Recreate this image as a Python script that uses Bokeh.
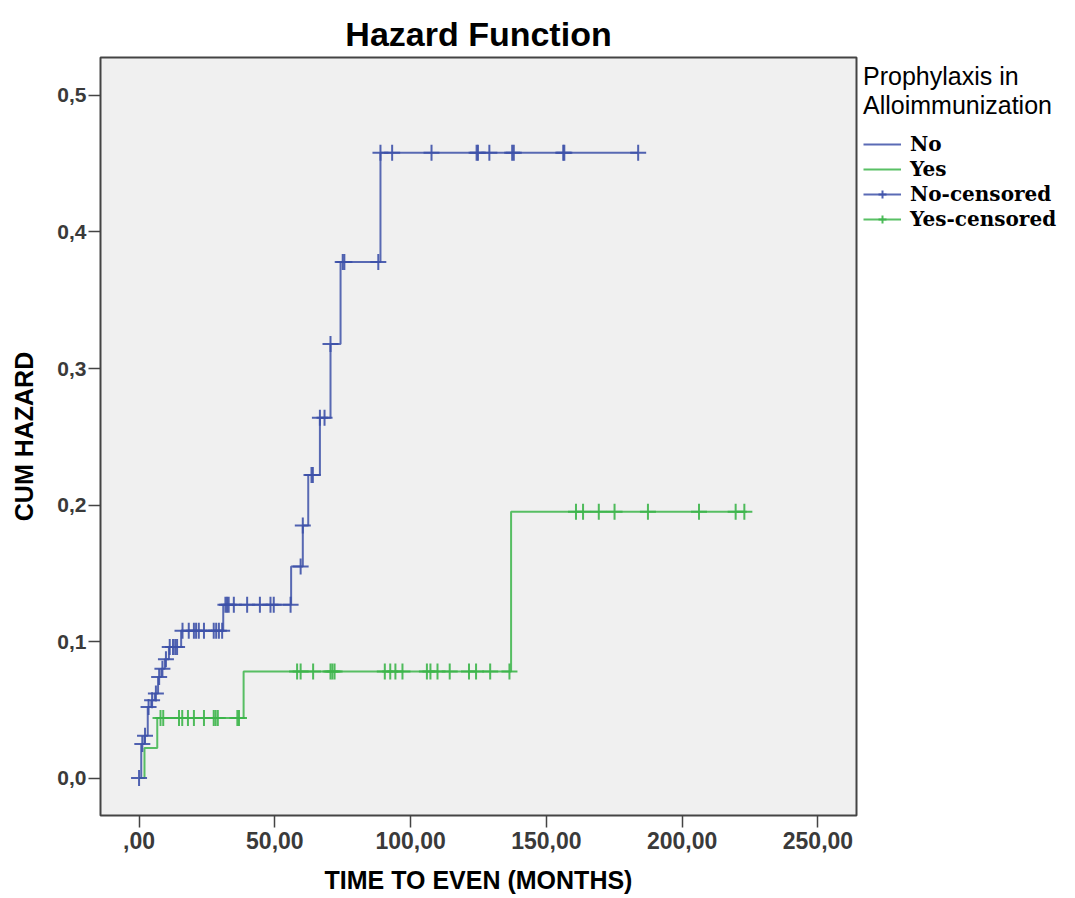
import numpy as np
from bokeh.plotting import figure
from bokeh.layouts import row
from bokeh.models import Legend, LegendItem, FixedTicker, Range1d
from bokeh.embed import file_html
from bokeh.resources import INLINE

# ---------------- data ----------------
group_labels = ["No", "Yes"]
legend_title = "Prophylaxis in\nAlloimmunization"

no_step_time = [0.0, 0.8, 2.0, 3.2, 4.5, 5.8, 7.0, 8.2, 9.5, 11.0, 15.5, 31.0,
                56.0, 60.3, 62.3, 66.6, 70.5, 74.2, 88.9]
no_step_hazard = [0.0, 0.025, 0.031, 0.052, 0.057, 0.062, 0.074, 0.080, 0.087,
                  0.096, 0.108, 0.127, 0.155, 0.185, 0.222, 0.264, 0.318, 0.378, 0.458]
no_last_time = 183.8
no_censored_time = [0.0, 1.2, 2.2, 3.5, 4.8, 6.2, 7.4, 8.6, 9.9, 11.3, 12.5, 13.3,
                    14.0, 16.0, 18.3, 20.2, 21.0, 22.0, 23.9, 27.5, 28.4, 29.4,
                    30.6, 31.8, 32.4, 33.0, 34.9, 39.8, 44.5, 48.4, 49.6, 55.8,
                    59.5, 60.3, 63.5, 64.0, 66.6, 68.3, 70.5, 75.0, 75.6, 88.1,
                    88.9, 93.2, 107.7, 124.3, 124.8, 129.0, 137.4, 138.0, 156.2,
                    156.6, 183.8]

yes_step_time = [0.0, 2.0, 6.7, 38.5, 137.0]
yes_step_hazard = [0.0, 0.022, 0.044, 0.078, 0.195]
yes_last_time = 223.8
yes_censored_time = [7.9, 8.9, 14.7, 15.9, 18.0, 20.2, 23.9, 27.5, 28.2, 29.0,
                     36.2, 36.8, 58.2, 59.5, 64.1, 70.5, 71.2, 72.0, 90.5, 92.5,
                     94.4, 97.0, 106.0, 107.3, 109.9, 114.4, 121.5, 124.1, 129.3,
                     136.4, 160.9, 163.5, 169.3, 175.1, 187.4, 206.2, 219.7, 222.9]

x_ticks = [0, 50, 100, 150, 200, 250]
x_tick_labels = [",00", "50,00", "100,00", "150,00", "200,00", "250,00"]
y_ticks = [0.0, 0.1, 0.2, 0.3, 0.4, 0.5]
y_tick_labels = ["0,0", "0,1", "0,2", "0,3", "0,4", "0,5"]

BLUE = "#3d51a8"
GREEN = "#3cb54a"


def hazard_at(step_t, step_h, t):
    idx = np.searchsorted(np.array(step_t), np.array(t), side="right") - 1
    return list(np.array(step_h)[idx])


no_x = no_step_time + [no_last_time]
no_y = no_step_hazard + [no_step_hazard[-1]]
yes_x = yes_step_time + [yes_last_time]
yes_y = yes_step_hazard + [yes_step_hazard[-1]]
no_cy = hazard_at(no_step_time, no_step_hazard, no_censored_time)
yes_cy = hazard_at(yes_step_time, yes_step_hazard, yes_censored_time)


def draw_series(fig):
    a = fig.step(no_x, no_y, mode="after", line_color=BLUE, line_width=2, line_alpha=0.85)
    b = fig.step(yes_x, yes_y, mode="after", line_color=GREEN, line_width=2, line_alpha=0.85)
    c = fig.scatter(no_censored_time, no_cy, marker="cross", size=16,
                    line_color=BLUE, line_width=2, line_alpha=0.9)
    d = fig.scatter(yes_censored_time, yes_cy, marker="cross", size=16,
                    line_color=GREEN, line_width=2, line_alpha=0.9)
    return a, b, c, d


FW, FH = 756, 758
p = figure(frame_width=FW, frame_height=FH, output_backend="svg", toolbar_location=None,
           x_range=Range1d(-14.2, 264.2), y_range=Range1d(-0.0274, 0.5278),
           title="Hazard Function",
           min_border_left=100, min_border_right=2, min_border_top=57,
           min_border_bottom=83)

p.background_fill_color = "#f0f0f0"
p.border_fill_color = "white"
p.outline_line_color = "#444444"
p.outline_line_width = 2
p.grid.visible = False

p.title.align = "center"
p.title.vertical_align = "top"
p.title.text_font = "Liberation Sans"
p.title.text_font_style = "bold"
p.title.text_font_size = "34px"
p.title.text_line_height = 1.3
p.title.text_color = "black"
p.title.standoff = 6

draw_series(p)

# axes
for ax in (p.xaxis[0], p.yaxis[0]):
    ax.axis_line_color = None
    ax.major_tick_out = 12
    ax.major_tick_in = 0
    ax.minor_tick_out = 0
    ax.minor_tick_in = 0
    ax.major_tick_line_color = "#444444"
    ax.major_tick_line_width = 1.5
    ax.major_label_text_font = "Liberation Sans"
    ax.major_label_text_font_style = "bold"
    ax.major_label_text_color = "#3a3a3a"
    ax.axis_label_text_font = "Liberation Sans"
    ax.axis_label_text_font_style = "bold"
    ax.axis_label_text_color = "black"

p.xaxis.ticker = FixedTicker(ticks=x_ticks)
p.xaxis.major_label_overrides = dict(zip(x_ticks, x_tick_labels))
p.xaxis.major_label_text_font_size = "23px"
p.xaxis.major_label_standoff = 4
p.xaxis.axis_label = "TIME TO EVEN (MONTHS)"
p.xaxis.axis_label_text_font_size = "25px"
p.xaxis.axis_label_standoff = 14

p.yaxis.ticker = FixedTicker(ticks=y_ticks)
p.yaxis.major_label_overrides = dict(zip(y_ticks, y_tick_labels))
p.yaxis.major_label_text_font_size = "21px"
p.yaxis.major_label_standoff = 2
p.yaxis.axis_label = "CUM HAZARD"
p.yaxis.axis_label_text_font_size = "25px"
p.yaxis.axis_label_standoff = 16

# ---------------- legend panel (separate canvas to the right) ----------------
# same series drawn on a canvas whose ranges hold none of them, so only the
# legend keys show
q = figure(width=217, height=898, output_backend="svg", toolbar_location=None,
           x_axis_type=None, y_axis_type=None, min_border=0, min_border_top=27,
           x_range=Range1d(1000, 1001), y_range=Range1d(1000, 1001))
q.outline_line_color = None
q.background_fill_color = "white"
q.border_fill_color = "white"
q.grid.visible = False

k_no, k_yes, k_no_c, k_yes_c = draw_series(q)

legend = Legend(items=[
    LegendItem(label=group_labels[0], renderers=[k_no]),
    LegendItem(label=group_labels[1], renderers=[k_yes]),
    LegendItem(label=group_labels[0] + "-censored", renderers=[k_no, k_no_c]),
    LegendItem(label=group_labels[1] + "-censored", renderers=[k_yes, k_yes_c]),
], title=legend_title, location="top_left")
legend.margin = 5
legend.padding = 7
legend.border_line_color = None
legend.background_fill_alpha = 0
legend.title_text_font = "Liberation Sans"
legend.title_text_font_style = "normal"
legend.title_text_font_size = "25px"
legend.title_text_color = "black"
legend.title_standoff = 12
legend.label_text_font = "DejaVu Serif"
legend.label_text_font_style = "bold"
legend.label_text_font_size = "20px"
legend.label_text_color = "black"
legend.glyph_width = 38
legend.glyph_height = 20
legend.label_height = 20
legend.spacing = 1
legend.label_standoff = 9
q.add_layout(legend)

layout = row(p, q)
open("out.html", "w").write(file_html(layout, INLINE))
